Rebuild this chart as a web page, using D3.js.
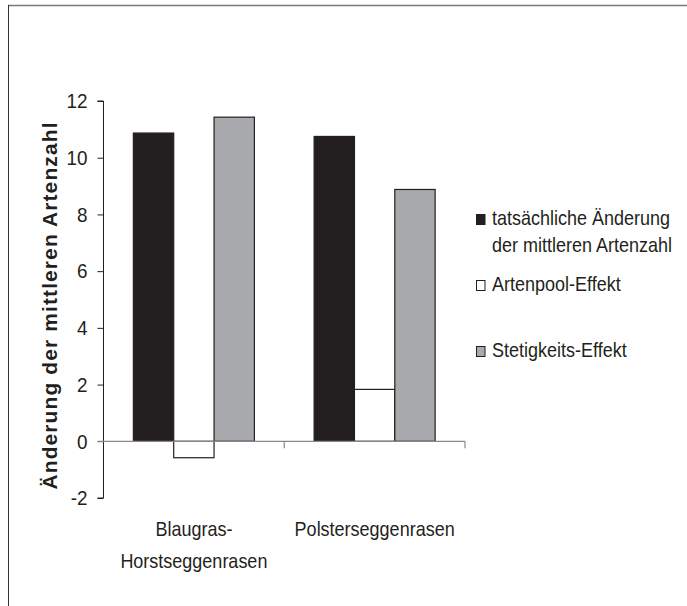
<!DOCTYPE html>
<html>
<head>
<meta charset="utf-8">
<script src="https://cdn.jsdelivr.net/npm/d3@7"></script>
<style>
  body { margin: 0; background: #fff; }
  svg text { fill: #231f20; font-family: "Liberation Sans", Arial, sans-serif; }
</style>
</head>
<body>
<div id="chart"></div>
<script>
// Kategorien und Werte / categories and values
const categories = ["Blaugras-\nHorstseggenrasen", "Polsterseggenrasen"];
const seriesNames = ["tatsächliche Änderung\nder mittleren Artenzahl", "Artenpool-Effekt", "Stetigkeits-Effekt"];
const seriesFill = ["#231f20", "#ffffff", "#a7a9ac"];
const tatsaechlich = [10.87, 10.75];
const artenpool = [-0.58, 1.83];
const stetigkeit = [11.43, 8.88];
const yTicks = [-2, 0, 2, 4, 6, 8, 10, 12];

const width = 687, height = 606;
const narrow = 0.9; // schmale Schrift nachbilden (Arial Narrow nicht vorhanden)
const svg = d3.select("#chart").append("svg")
    .attr("width", width).attr("height", height);

// Rahmen (nur oben und links sichtbar)
svg.append("line").attr("x1", 8).attr("x2", width).attr("y1", 5.5).attr("y2", 5.5)
    .attr("stroke", "#777").attr("stroke-width", 1.5);
svg.append("line").attr("x1", 8.5).attr("x2", 8.5).attr("y1", 5).attr("y2", height)
    .attr("stroke", "#333");

const plot = { left: 103.5, right: 465, top: 101, bottom: 498 };

const y = d3.scaleLinear().domain([-2, 12]).range([plot.bottom, plot.top]);
const x0 = d3.scaleBand().domain(categories).range([plot.left, plot.right]);
const x1 = d3.scaleBand().domain(seriesNames).range([0, x0.bandwidth()]).paddingOuter(0.74);

const rows = categories.map((c, i) => ({
    cat: c,
    vals: [tatsaechlich[i], artenpool[i], stetigkeit[i]]
}));

// Balken
const groups = svg.append("g").selectAll("g").data(rows).join("g")
    .attr("transform", d => `translate(${x0(d.cat)},0)`);
groups.selectAll("rect").data(d => d.vals.map((v, j) => ({ v, s: seriesNames[j], j })))
    .join("rect")
    .attr("x", d => x1(d.s))
    .attr("width", x1.bandwidth())
    .attr("y", d => y(Math.max(0, d.v)))
    .attr("height", d => Math.abs(y(d.v) - y(0)))
    .attr("fill", d => seriesFill[d.j])
    .attr("stroke", "#231f20").attr("stroke-width", 1.2);

// y-Achse
const yAxis = svg.append("g").attr("transform", `translate(${plot.left},0)`)
    .call(d3.axisLeft(y).tickValues(yTicks).tickSize(6).tickPadding(10).tickFormat(d => String(d)));
yAxis.select(".domain").attr("stroke", "#231f20").attr("d", `M-6,${y(12)}H0V${y(-2)}H-6`);
yAxis.selectAll(".tick line").attr("stroke", "#231f20");
yAxis.selectAll(".tick").filter(d => d === 0).select("line").attr("stroke", "#888");
yAxis.selectAll("text")
    .attr("font-size", 21).attr("fill", "#231f20")
    .attr("font-family", "Liberation Sans, Arial, sans-serif")
    .attr("x", -16 / narrow)
    .attr("transform", `scale(${narrow},1)`);

// x-Achse bei 0
const xAxisG = svg.append("g").attr("transform", `translate(0,${y(0)})`);
xAxisG.append("line").attr("x1", plot.left - 6).attr("x2", plot.right)
    .attr("stroke", "#888").attr("stroke-width", 1.2);
xAxisG.selectAll("line.tk").data(categories).join("line").attr("class", "tk")
    .attr("x1", d => x0(d) + x0.bandwidth()).attr("x2", d => x0(d) + x0.bandwidth())
    .attr("y1", 0).attr("y2", 7).attr("stroke", "#888").attr("stroke-width", 1.2);

// Kategorienbeschriftung
svg.append("g").selectAll("text").data(categories).join("text")
    .attr("font-size", 20).attr("text-anchor", "middle")
    .attr("transform", d => `translate(${x0(d) + x0.bandwidth() / 2},536) scale(${narrow},1)`)
    .selectAll("tspan").data(d => d.split("\n")).join("tspan")
    .attr("x", 0)
    .attr("dy", (d, i) => i === 0 ? 0 : 32)
    .text(d => d);

// y-Titel
svg.append("text")
    .attr("transform", `translate(57,${(plot.top + plot.bottom) / 2 + 6}) rotate(-90)`)
    .attr("text-anchor", "middle")
    .attr("font-weight", "bold").attr("font-size", 21)
    .attr("letter-spacing", 1.1)
    .text("Änderung der mittleren Artenzahl");

// Legende
const legendY = [225, 291, 357];
const legend = svg.append("g").selectAll("g").data(seriesNames).join("g")
    .attr("transform", (d, i) => `translate(476,${legendY[i]})`);
legend.append("rect").attr("x", 0.5).attr("y", -10.5).attr("width", 8.5).attr("height", 10)
    .attr("fill", (d, i) => seriesFill[i]).attr("stroke", "#231f20").attr("stroke-width", 1);
legend.append("text").attr("font-size", 20)
    .attr("transform", `translate(16,0) scale(${narrow},1)`)
    .selectAll("tspan").data(d => d.split("\n")).join("tspan")
    .attr("x", 0).attr("dy", (d, i) => i === 0 ? 0 : 27)
    .text(d => d);
</script>
</body>
</html>
